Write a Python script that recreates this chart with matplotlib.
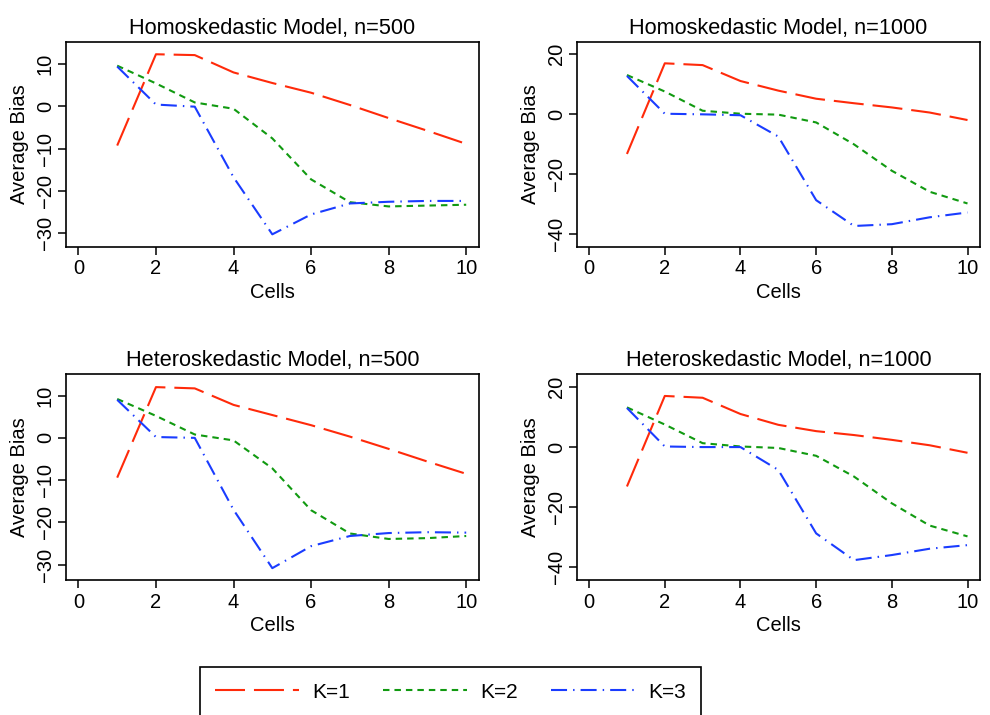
import matplotlib
matplotlib.use("Agg")
import matplotlib.pyplot as plt
from matplotlib.lines import Line2D

plt.rcParams["font.family"] = ["Liberation Sans", "DejaVu Sans"]

cells = [1, 2, 3, 4, 5, 6, 7, 8, 9, 10]

titles = ["Homoskedastic Model, n=500", "Homoskedastic Model, n=1000",
          "Heteroskedastic Model, n=500", "Heteroskedastic Model, n=1000"]

# average bias per panel, K=1 / K=2 / K=3
homo500_k1 = [-9.3, 12.3, 12.1, 8.0, 5.5, 3.2, 0.3, -2.8, -5.8, -8.9]
homo500_k2 = [9.6, 5.4, 0.9, -0.6, -7.6, -17.3, -22.7, -23.7, -23.5, -23.3]
homo500_k3 = [9.4, 0.4, -0.1, -16.8, -30.3, -25.6, -23.0, -22.6, -22.4, -22.4]

homo1000_k1 = [-13.2, 17.0, 16.4, 11.1, 7.9, 5.2, 3.7, 2.3, 0.6, -1.9]
homo1000_k2 = [13.1, 7.6, 1.2, 0.2, -0.1, -2.7, -10.0, -18.8, -25.8, -29.7]
homo1000_k3 = [12.8, 0.2, 0.0, -0.3, -7.4, -28.6, -37.2, -36.6, -34.3, -32.7]

hetero500_k1 = [-9.4, 12.0, 11.7, 7.8, 5.4, 3.0, 0.3, -2.6, -5.6, -8.5]
hetero500_k2 = [9.2, 5.2, 0.8, -0.6, -7.2, -17.1, -22.6, -23.9, -23.7, -23.2]
hetero500_k3 = [9.0, 0.2, 0.0, -17.0, -30.8, -25.6, -23.2, -22.5, -22.3, -22.4]

hetero1000_k1 = [-13.1, 17.0, 16.4, 11.0, 7.4, 5.3, 4.0, 2.4, 0.6, -1.9]
hetero1000_k2 = [13.2, 7.5, 1.3, 0.2, -0.3, -2.9, -9.8, -18.7, -26.1, -29.7]
hetero1000_k3 = [13.0, 0.2, 0.0, 0.0, -7.6, -28.7, -37.6, -35.9, -33.8, -32.6]

panels = [
    (homo500_k1, homo500_k2, homo500_k3),
    (homo1000_k1, homo1000_k2, homo1000_k3),
    (hetero500_k1, hetero500_k2, hetero500_k3),
    (hetero1000_k1, hetero1000_k2, hetero1000_k3),
]
yticks = [[-30, -20, -10, 0, 10], [-40, -20, 0, 20],
          [-30, -20, -10, 0, 10], [-40, -20, 0, 20]]
ylims = [(-33.3, 15.2), (-44.2, 24.1), (-33.6, 15.1), (-44.2, 24.3)]

labels = ["K=1", "K=2", "K=3"]
colors = ["#ff2a0a", "#119a11", "#1a3cff"]
dashes = [(14.4, 4.3), (3.1, 2.4), (7.7, 2.9, 0.7, 2.9)]
lw = 1.5

W, H = 990, 715
boxes = [(66, 42, 479, 247), (577, 42, 980, 247),
         (66, 374, 479, 580), (577, 374, 980, 580)]

fig = plt.figure(figsize=(W / 100, H / 100), dpi=100)

for i in range(4):
    l, t, r, b = boxes[i]
    ax = fig.add_axes([l / W, 1 - b / H, (r - l) / W, (b - t) / H])
    for j in range(3):
        ax.plot(cells, panels[i][j], color=colors[j], lw=lw,
                dashes=dashes[j])
    ax.set_xlim(-0.32, 10.33)
    ax.set_ylim(*ylims[i])
    ax.set_xticks([0, 2, 4, 6, 8, 10])
    ax.set_yticks(yticks[i])
    ax.set_yticklabels([str(v).replace("-", "\u2212") for v in yticks[i]],
                       rotation=90, va="center")
    ax.tick_params(direction="out", length=6, width=1.1, labelsize=14.5,
                   pad=3)
    ax.tick_params(axis="y", pad=2)
    for s in ax.spines.values():
        s.set_linewidth(1.2)
    ax.set_title(titles[i], fontsize=15.7, pad=6)
    ax.set_xlabel("Cells", fontsize=14.5, labelpad=3)
    ax.set_ylabel("Average Bias", fontsize=14.5, labelpad=5)

handles = [Line2D([], [], color=colors[j], lw=lw, dashes=dashes[j])
           for j in range(3)]
leg = fig.legend(handles, labels, loc="center", ncol=3,
                 bbox_to_anchor=(450.5 / W, 1 - 692 / H), fontsize=15,
                 handlelength=4.0, handletextpad=0.65, columnspacing=1.6,
                 borderpad=0.75, borderaxespad=0, fancybox=False,
                 framealpha=1, edgecolor="black")
leg.get_frame().set_linewidth(1.2)

fig.savefig("out.png", dpi=100)
